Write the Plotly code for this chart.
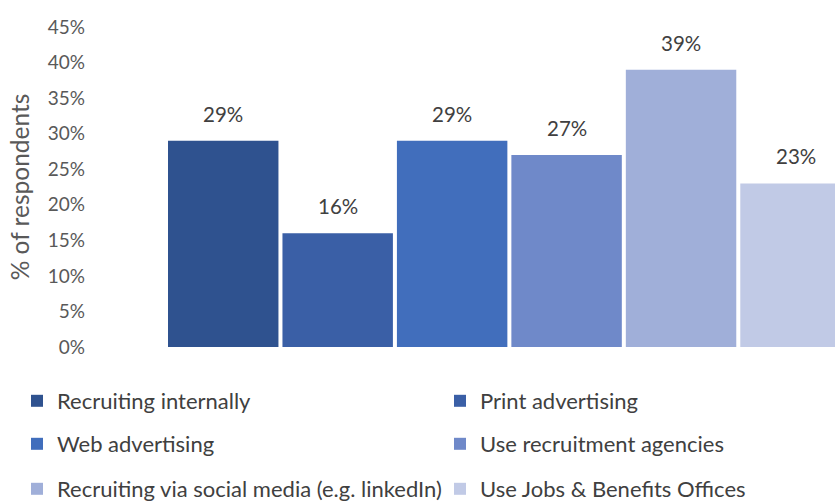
import plotly.graph_objects as go

# Recruitment methods and share of respondents using each (%)
methods = [
    "Recruiting internally",
    "Print advertising",
    "Web advertising",
    "Use recruitment agencies",
    "Recruiting via social media (e.g. linkedIn)",
    "Use Jobs & Benefits Offices",
]
shares = [29, 16, 29, 27, 39, 23]
colors = ["#2F528F", "#3A5FA6", "#416EBC", "#6F89C9", "#A0AFD9", "#C1CAE6"]

FONT = "Lato"
fig = go.Figure()

# one legend box per entry, laid out as a 2-column grid below the plot
legend_ids = ["legend"] + [f"legend{k}" for k in range(2, 7)]
col_x = [17, 440]          # px from left
row_y = [401, 444, 489]    # px from top

legend_layout = {}
for i, (name, val, col, lg) in enumerate(zip(methods, shares, colors, legend_ids)):
    fig.add_trace(go.Bar(
        x=[i], y=[val / 100], name=name, width=0.965,
        marker=dict(color=col, line=dict(width=0)),
        legend=lg, hoverinfo="skip",
    ))
    fig.add_annotation(
        x=i, y=val / 100, text=f"{val}%", showarrow=False,
        yanchor="middle", yshift=27,
        font=dict(family=FONT, size=20.5, color="#404040"),
    )
    legend_layout[lg] = dict(
        orientation="h", xref="container", yref="container",
        x=col_x[i % 2] / 835, xanchor="left",
        y=1 - row_y[i // 2] / 501, yanchor="middle",
        font=dict(family=FONT, size=22, color="#404040"),
        bgcolor="rgba(0,0,0,0)", borderwidth=0,
    )

fig.update_layout(
    width=835, height=501,
    margin=dict(l=166, r=0, t=27, b=153.5),
    paper_bgcolor="white", plot_bgcolor="white",
    barmode="overlay",
    showlegend=True,
    xaxis=dict(range=[-0.5, 5.345], showticklabels=False, showgrid=False,
               zeroline=False, showline=False, ticks=""),
    yaxis=dict(
        range=[0, 0.45], dtick=0.05, tickformat=".0%",
        showgrid=False, zeroline=False, showline=False, ticks="",
        ticklabelstandoff=80,
        tickfont=dict(family=FONT, size=19, color="#595959"),
        title=dict(text="% of respondents", standoff=11,
                   font=dict(family=FONT, size=24.5, color="#595959")),
    ),
    **legend_layout,
)

fig.write_html("out.html")
